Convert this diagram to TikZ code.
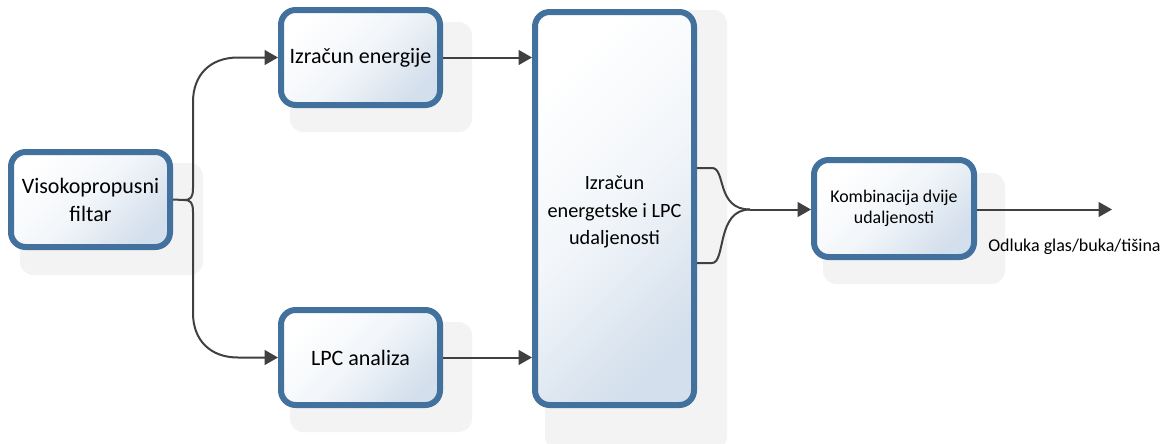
\documentclass[tikz,border=0pt]{standalone}
\usepackage{fontspec}
\setmainfont{Carlito}
\usetikzlibrary{arrows.meta}
\definecolor{boxblue}{HTML}{41719C}
\definecolor{shadegray}{HTML}{F3F3F3}
\definecolor{fillblue}{HTML}{D3DFEC}
\definecolor{linegray}{HTML}{404040}
\tikzset{
  stage/.style={draw=boxblue, line width=4.5pt, rounded corners=11pt,
    shading=axis, top color=white, bottom color=fillblue, middle color=white!70!fillblue,
    shading angle=45, align=center, inner sep=2pt,
    font=\fontsize{16.5}{21}\selectfont, text=black},
  smallstage/.style={stage, minimum width=119.25pt, minimum height=71.25pt},
  backdrop/.style={fill=shadegray, draw=none, rounded corners=10pt},
  wire/.style={draw=linegray, line width=1.5pt},
  flow/.style={wire, -{Triangle[length=10pt,width=11pt]}}
}
\begin{document}
\begin{tikzpicture}[x=0.75pt, y=-0.75pt]
\useasboundingbox[fill=white] (0,0) rectangle (1168,443);

% soft backdrops behind the stages
\fill[backdrop] (20,163) rectangle (203,275);
\fill[backdrop] (290,22) rectangle (472,132);
\fill[backdrop] (290,322) rectangle (472,432);
\fill[backdrop] (545,10) rectangle (727,450);
\fill[backdrop] (823,173) rectangle (1005,284);

% processing stages
\node[smallstage] (filt) at (90.5,199.5) {Visokopropusni\\filtar};
\node[smallstage] (en) at (360.5,57.5) {Izračun energije};
\node[smallstage] (lpc) at (360.5,357.5) {LPC analiza};
\node[stage, minimum width=119.25pt, minimum height=294.75pt] (dist) at (614.5,208.5) {};
\node[align=center, font=\fontsize{15.2}{20.6}\selectfont] (distlbl) at (614.5,212) {Izračun\\energetske i LPC\\udaljenosti};
\node[smallstage, minimum width=120pt, minimum height=72.75pt,
      font=\fontsize{13.4}{16}\selectfont] (komb) at (894,208.5) {Kombinacija dvije\\udaljenosti};

% output label
\node[anchor=west, font=\fontsize{13.5}{16}\selectfont, inner sep=0pt] (odl) at (988,247) {Odluka glas/buka/tišina};

% split after the high-pass filter
\coordinate (fj) at (184,200);
\draw[flow] (filt.east) -- (fj) .. controls (191,200) and (193,197) .. (193,188)
  -- (193,102) .. controls (193,75) and (210,57.5) .. (238,57.5) -- (en.west);
\draw[flow] (fj) .. controls (191,200) and (193,203) .. (193,212)
  -- (193,313) .. controls (193,340) and (210,357.5) .. (238,357.5) -- (lpc.west);

% into the distance stage
\draw[flow] (en.east) -- (en.east -| dist.west);
\draw[flow] (lpc.east) -- (lpc.east -| dist.west);

% merge of the two distances
\coordinate (m1) at (697,168);
\coordinate (m2) at (697,263);
\coordinate (mj) at (750,209.5);
\draw[wire] (m1) -- (712,168) .. controls (726,168) and (716,209.5) .. (mj);
\draw[wire] (m2) -- (712,263) .. controls (726,263) and (716,209.5) .. (mj);
\draw[flow] (mj) -- (mj -| komb.west);

% final decision
\coordinate (out) at (1112,209.5);
\draw[flow] (komb.east |- out) -- (out);
\end{tikzpicture}
\end{document}
